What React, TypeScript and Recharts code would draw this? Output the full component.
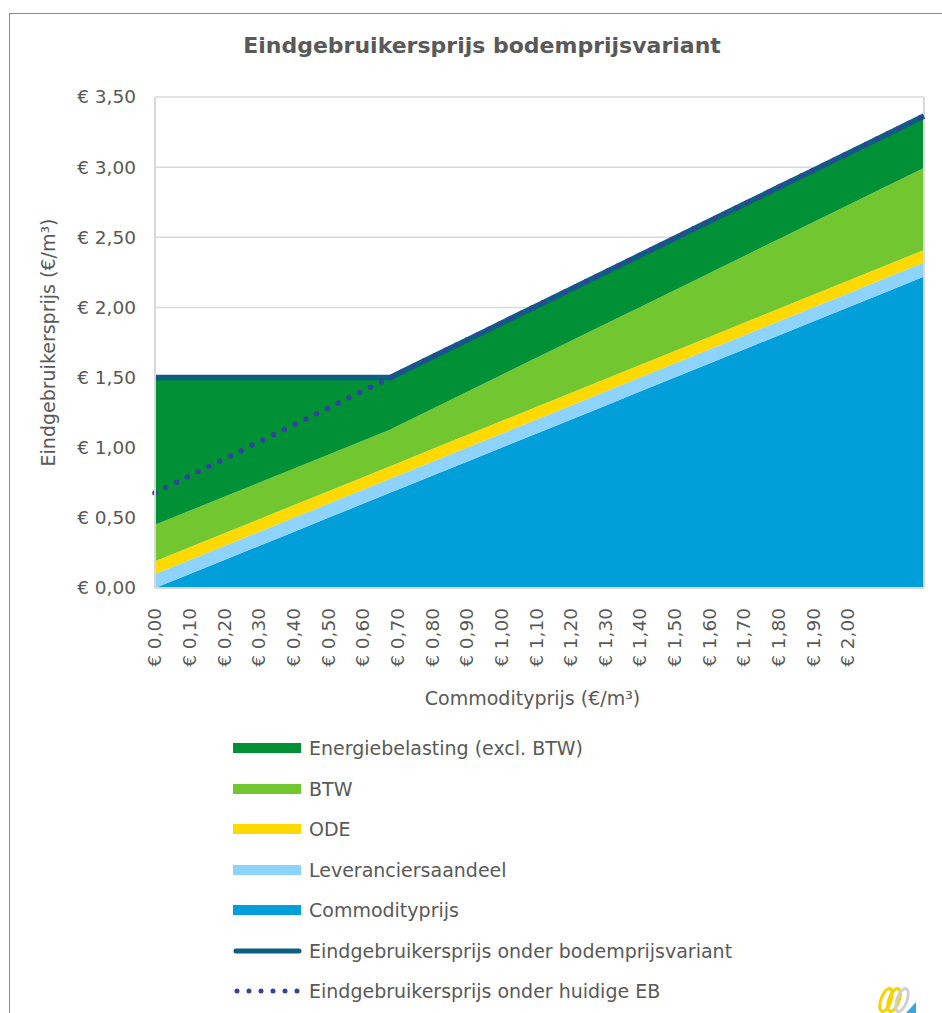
import React from 'react';
import {
  ComposedChart,
  Area,
  Line,
  XAxis,
  YAxis,
  CartesianGrid,
  ReferenceLine,
} from 'recharts';

// commodityprijs op de x-as (€/m3), incl. het omslagpunt bij ~0,68
const commodityprijs = [0, 0.1, 0.2, 0.3, 0.4, 0.5, 0.6, 0.68, 0.7, 0.8, 0.9, 1.0, 1.1, 1.2, 1.3, 1.4, 1.5, 1.6, 1.7, 1.8, 1.9, 2.0, 2.1, 2.22];
const leveranciersaandeel = [0.1, 0.1, 0.1, 0.1, 0.1, 0.1, 0.1, 0.1, 0.1, 0.1, 0.1, 0.1, 0.1, 0.1, 0.1, 0.1, 0.1, 0.1, 0.1, 0.1, 0.1, 0.1, 0.1, 0.1];
const odeWaarden = [0.09, 0.09, 0.09, 0.09, 0.09, 0.09, 0.09, 0.09, 0.09, 0.09, 0.09, 0.09, 0.09, 0.09, 0.09, 0.09, 0.09, 0.09, 0.09, 0.09, 0.09, 0.09, 0.09, 0.09];
const btwWaarden = [0.26, 0.26, 0.26, 0.26, 0.26, 0.26, 0.26, 0.26, 0.265, 0.286, 0.307, 0.328, 0.349, 0.37, 0.391, 0.412, 0.433, 0.454, 0.475, 0.496, 0.517, 0.538, 0.559, 0.584];
const energiebelasting = [1.05, 0.95, 0.85, 0.75, 0.65, 0.55, 0.45, 0.37, 0.37, 0.37, 0.37, 0.37, 0.37, 0.37, 0.37, 0.37, 0.37, 0.37, 0.37, 0.37, 0.37, 0.37, 0.37, 0.37];
const bodemprijsTotaal = [1.5, 1.5, 1.5, 1.5, 1.5, 1.5, 1.5, 1.5, 1.525, 1.646, 1.767, 1.888, 2.009, 2.13, 2.251, 2.372, 2.493, 2.614, 2.735, 2.856, 2.977, 3.098, 3.219, 3.364];
const huidigeEbTotaal = [0.678, 0.799, 0.92, 1.041, 1.162, 1.283, 1.404, 1.5, 1.525, 1.646, 1.767, 1.888, 2.009, 2.13, 2.251, 2.372, 2.493, 2.614, 2.735, 2.856, 2.977, 3.098, 3.219, 3.364];

const xTicks = [0, 0.1, 0.2, 0.3, 0.4, 0.5, 0.6, 0.7, 0.8, 0.9, 1.0, 1.1, 1.2, 1.3, 1.4, 1.5, 1.6, 1.7, 1.8, 1.9, 2.0];
const yTicks = [0, 0.5, 1, 1.5, 2, 2.5, 3, 3.5];

const data = commodityprijs.map((x, i) => ({
  x,
  commodity: x,
  lev: leveranciersaandeel[i],
  ode: odeWaarden[i],
  btw: btwWaarden[i],
  eb: energiebelasting[i],
  bodem: bodemprijsTotaal[i],
  huidig: huidigeEbTotaal[i],
}));

const FONT = '"DejaVu Sans", Verdana, sans-serif';
const GREY = '#595959';

const euro = (v: number) => '€ ' + v.toFixed(2).replace('.', ',');

const XTick = (props: any) => {
  const { x, y, payload } = props;
  return (
    <text
      x={x}
      y={y + 12}
      transform={`rotate(-90, ${x}, ${y + 12})`}
      textAnchor="end"
      dy="0.35em"
      fill={GREY}
      fontSize={18.5}
      fontFamily={FONT}
    >
      {euro(payload.value)}
    </text>
  );
};

const YTick = (props: any) => {
  const { y, payload } = props;
  return (
    <text x={136} y={y} textAnchor="end" dy="0.35em" fill={GREY} fontSize={18.5} fontFamily={FONT}>
      {euro(payload.value)}
    </text>
  );
};

const legendItems = [
  { label: 'Energiebelasting (excl. BTW)', color: '#009136', kind: 'box' },
  { label: 'BTW', color: '#72C62F', kind: 'box' },
  { label: 'ODE', color: '#FFD900', kind: 'box' },
  { label: 'Leveranciersaandeel', color: '#8DD3FB', kind: 'box' },
  { label: 'Commodityprijs', color: '#009FD9', kind: 'box' },
  { label: 'Eindgebruikersprijs onder bodemprijsvariant', color: '#0A5F82', kind: 'line' },
  { label: 'Eindgebruikersprijs onder huidige EB', color: '#32449A', kind: 'dots' },
];

export default function App() {
  return (
    <div
      style={{
        position: 'absolute',
        left: 0,
        top: 0,
        width: 942,
        height: 1013,
        overflow: 'hidden',
        background: '#fff',
        fontFamily: FONT,
      }}
    >
      <div
        style={{
          position: 'absolute',
          left: 9,
          top: 13,
          width: 1000,
          height: 1100,
          border: '1px solid #3FA3DB',
        }}
      />
      <div
        style={{
          position: 'absolute',
          left: 0,
          top: 33,
          width: 964,
          textAlign: 'center',
          fontSize: 22,
          fontWeight: 'bold',
          color: GREY,
        }}
      >
        Eindgebruikersprijs bodemprijsvariant
      </div>
      <div style={{ position: 'absolute', left: 0, top: 0 }}>
        <ComposedChart width={942} height={720} data={data} margin={{ top: 97, right: 18, bottom: 0, left: 0 }}>
          <CartesianGrid vertical={false} stroke="#D9D9D9" strokeWidth={1.5} />
          <XAxis
            dataKey="x"
            type="number"
            domain={[0, 2.22]}
            ticks={xTicks}
            interval={0}
            height={132}
            tick={<XTick />}
            tickLine={false}
            axisLine={{ stroke: '#D9D9D9', strokeWidth: 2 }}
            label={{
              value: 'Commodityprijs (€/m³)',
              position: 'insideBottom',
              offset: 15,
              dx: -7,
              fill: GREY,
              fontSize: 19,
              fontFamily: FONT,
            }}
          />
          <YAxis
            type="number"
            domain={[0, 3.5]}
            ticks={yTicks}
            width={155}
            tick={<YTick />}
            tickLine={false}
            axisLine={{ stroke: '#D9D9D9', strokeWidth: 2 }}
            label={{
              value: 'Eindgebruikersprijs (€/m³)',
              angle: -90,
              position: 'insideLeft',
              offset: 48,
              fill: GREY,
              fontSize: 19,
              fontFamily: FONT,
              style: { textAnchor: 'middle' },
            }}
          />
          <Area type="linear" dataKey="commodity" stackId="a" stroke="none" fill="#009FD9" fillOpacity={1} isAnimationActive={false} />
          <Area type="linear" dataKey="lev" stackId="a" stroke="none" fill="#8DD3FB" fillOpacity={1} isAnimationActive={false} />
          <Area type="linear" dataKey="ode" stackId="a" stroke="none" fill="#FFD900" fillOpacity={1} isAnimationActive={false} />
          <Area type="linear" dataKey="btw" stackId="a" stroke="none" fill="#72C62F" fillOpacity={1} isAnimationActive={false} />
          <Area type="linear" dataKey="eb" stackId="a" stroke="none" fill="#009136" fillOpacity={1} isAnimationActive={false} />
          <ReferenceLine x={2.22} stroke="#D9D9D9" strokeWidth={2} />
          <Line type="linear" dataKey="bodem" stroke="#0A5F82" strokeWidth={5.5} dot={false} isAnimationActive={false} />
          <Line
            type="linear"
            dataKey="huidig"
            stroke="#32449A"
            strokeWidth={5.5}
            strokeDasharray="0 12"
            strokeLinecap="round"
            dot={false}
            isAnimationActive={false}
          />
        </ComposedChart>
      </div>
      {legendItems.map((item, i) => (
        <div
          key={item.label}
          style={{
            position: 'absolute',
            left: 233,
            top: 748 + i * 40.5 - 13,
            height: 26,
            display: 'flex',
            alignItems: 'center',
            fontSize: 19,
            color: GREY,
            whiteSpace: 'nowrap',
          }}
        >
          <svg width={76} height={12}>
            {item.kind === 'box' && <rect x={0} y={1} width={68} height={10} fill={item.color} />}
            {item.kind === 'line' && (
              <line x1={3} y1={6} x2={66} y2={6} stroke={item.color} strokeWidth={5} strokeLinecap="round" />
            )}
            {item.kind === 'dots' &&
              [0, 1, 2, 3, 4, 5].map((d) => <circle key={d} cx={4 + d * 12} cy={6} r={2.5} fill={item.color} />)}
          </svg>
          <span>{item.label}</span>
        </div>
      ))}
      {/* logo rechtsonder, grof benaderd */}
      <svg style={{ position: 'absolute', left: 872, top: 980 }} width={70} height={33}>
        <ellipse cx={14} cy={20} rx={5} ry={12} transform="rotate(20, 14, 20)" fill="none" stroke="#F5D200" strokeWidth={3} />
        <ellipse cx={22} cy={20} rx={5} ry={12} transform="rotate(20, 22, 20)" fill="none" stroke="#F5D200" strokeWidth={3} />
        <ellipse cx={30} cy={20} rx={5} ry={12} transform="rotate(20, 30, 20)" fill="none" stroke="#D0D0D0" strokeWidth={3} />
        <polygon points="34,33 44,22 44,33" fill="#3DA5DE" />
      </svg>
    </div>
  );
}
